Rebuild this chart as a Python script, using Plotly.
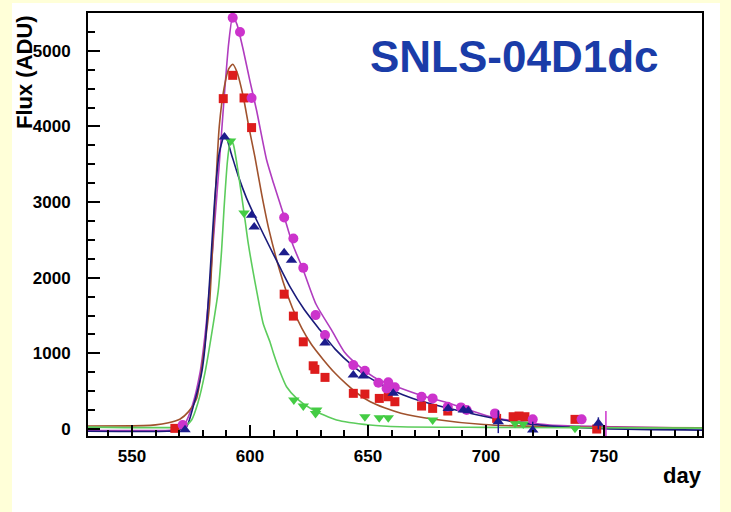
import plotly.graph_objects as go

# ---------------- data ----------------
# magenta circles
mag_day = [571.5, 592.7, 595.8, 600.7, 614.5, 618.4, 622.6, 627.8, 631.8, 643.8, 648.7,
           654.4, 657.9, 658.6, 661.4, 672.7, 677.4, 683.8, 689.4, 691.8, 703.8, 719.8, 740.5]
mag_flux = [53, 5437, 5248, 4377, 2797, 2519, 2131, 1506, 1242, 845, 770,
            612, 537, 617, 551, 427, 405, 295, 286, 251, 207, 128, 128]
# red squares
red_day = [568.2, 588.7, 592.7, 597.5, 600.7, 614.5, 618.4, 622.6, 626.8, 627.5, 631.8,
           643.8, 648.7, 654.8, 658.6, 661.4, 672.7, 677.4, 683.8, 704.5, 711.5, 714.0,
           716.5, 737.7, 746.9]
red_flux = [9, 4368, 4676, 4377, 3985, 1783, 1493, 1153, 836, 789, 683,
            472, 462, 405, 427, 361, 304, 273, 238, 141, 163, 172, 163, 128, 0]
# navy triangles (up)
blu_day = [572.5, 589.2, 600.7, 601.8, 614.5, 617.6, 631.8, 643.8, 648.0, 660.7,
           684.0, 690.4, 692.5, 705.2, 719.8, 747.6]
blu_flux = [-10, 3860, 2827, 2672, 2329, 2232, 1136, 713, 700, 472,
            273, 251, 242, 96, -13, 75]
blu_err = [0, 0, 0, 0, 0, 0, 0, 0, 0, 0, 0, 0, 0, 150, 110, 80]
# green triangles (down)
grn_day = [591.8, 597.5, 618.6, 622.6, 627.8, 628.3, 648.7, 654.8, 658.6, 677.4,
           712.3, 715.8, 737.7]
grn_flux = [3808, 2857, 383, 304, 207, 251, 163, 149, 149, 119, 75, 66, 9]
# lone magenta error bar near day 751
mag_bar_day = [750.8]
mag_bar_flux = [60]
mag_bar_err = [180]

# fitted light curves
mag_fit_day = [531, 560, 568, 572.5, 575.5, 578.8, 581, 583, 585, 587, 589, 591, 592.7,
               594.5, 597.2, 600, 602.8, 607.1, 610, 614.1, 618, 622.6, 628, 634.6, 640,
               646.6, 654, 662.2, 673, 684.7, 700, 706, 727, 755, 792]
mag_fit_flux = [-20, -20, -10, 75, 300, 735, 1250, 1900, 2700, 3500, 4350, 5100, 5456,
                5350, 5007, 4600, 4214, 3553, 3250, 2849, 2450, 2100, 1650, 1308, 1020,
                823, 660, 559, 440, 339, 180, 135, 53, 30, 9]
red_fit_day = [531, 555, 560, 565, 570.3, 574, 577.4, 580.2, 582.8, 584, 585.5, 587, 589,
               591, 592.7, 594.5, 597.2, 599.5, 602.1, 605, 608.1, 614, 618, 622, 626,
               631, 636, 641, 646, 651, 657, 664, 678, 699, 727, 792]
red_fit_flux = [40, 45, 55, 80, 130, 230, 400, 955, 1616, 2300, 3200, 4000, 4500,
                4760, 4822, 4720, 4390, 4000, 3597, 3100, 2629, 1950, 1600, 1330, 1120,
                920, 740, 590, 460, 360, 280, 210, 130, 60, 30, 18]
blu_fit_day = [531, 565, 570, 573.2, 576, 579.5, 581, 583, 585, 587, 589.4, 592, 595,
               598.6, 603, 608.5, 613, 617, 623, 629.7, 636, 643.8, 650, 656.4, 665,
               673.5, 690.4, 707.3, 720, 750, 792]
blu_fit_flux = [-30, -30, -15, 30, 300, 735, 1100, 2000, 3000, 3650, 3900, 3650, 3350,
                3050, 2750, 2400, 2120, 1880, 1580, 1308, 1060, 830, 690, 580, 450,
                361, 229, 119, 60, 5, -15]
grn_fit_day = [531, 570, 573, 575.3, 578, 580.9, 584.5, 586.6, 588, 589, 590.5, 591.8,
               593, 595, 597.5, 599.3, 603, 605.6, 608.5, 610, 612.7, 615.5, 620, 626.8,
               636.7, 650.8, 663.6, 700, 792]
grn_fit_flux = [25, 25, 50, 119, 350, 735, 1396, 1836, 2365, 2900, 3550, 3830,
                3760, 3400, 2860, 2450, 1800, 1396, 1150, 1000, 760, 559, 400, 251,
                119, 53, 30, 22, 12]

x_ticks = [550, 600, 650, 700, 750]
y_ticks = [0, 1000, 2000, 3000, 4000, 5000]

# ---------------- figure ----------------
FONT = "Liberation Sans, Arial, sans-serif"
MAG, MAG_L = "#cc33cc", "#b03cbf"
RED, RED_L = "#dd1c1c", "#a0522d"
BLU, BLU_L = "#1c1c8c", "#1a1a7a"
GRN, GRN_L = "#44cc44", "#5ccc5c"

fig = go.Figure()

for d, f, c in [(mag_fit_day, mag_fit_flux, MAG_L), (red_fit_day, red_fit_flux, RED_L),
                (blu_fit_day, blu_fit_flux, BLU_L), (grn_fit_day, grn_fit_flux, GRN_L)]:
    fig.add_trace(go.Scatter(x=d, y=f, mode="lines",
                             line=dict(color=c, width=1.6, shape="spline", smoothing=0.6),
                             hoverinfo="skip"))

fig.add_trace(go.Scatter(x=mag_bar_day, y=mag_bar_flux, mode="markers",
                         marker=dict(color=MAG, size=1, opacity=0),
                         error_y=dict(type="data", array=mag_bar_err, color=MAG,
                                      thickness=1.5, width=0)))
fig.add_trace(go.Scatter(x=grn_day, y=grn_flux, mode="markers",
                         marker=dict(symbol="triangle-down", color=GRN, size=10)))
fig.add_trace(go.Scatter(x=red_day, y=red_flux, mode="markers",
                         marker=dict(symbol="square", color=RED, size=9)))
fig.add_trace(go.Scatter(x=mag_day, y=mag_flux, mode="markers",
                         marker=dict(symbol="circle", color=MAG, size=10)))
fig.add_trace(go.Scatter(x=blu_day, y=blu_flux, mode="markers",
                         marker=dict(symbol="triangle-up", color=BLU, size=10),
                         error_y=dict(type="data", array=blu_err, color=BLU,
                                      thickness=1.5, width=0)))

W, H = 731, 512
L, R, T, B = 88, 29, 13, 76
pw, ph = W - L - R, H - T - B


def px(xp):
    return (xp - L) / pw


def py(yp):
    return (H - B - yp) / ph


fig.update_layout(
    width=W, height=H,
    margin=dict(l=L, r=R, t=T, b=B),
    paper_bgcolor="#ffffd8",
    plot_bgcolor="white",
    showlegend=False,
    font=dict(family=FONT, color="black"),
    shapes=[dict(type="rect", xref="paper", yref="paper",
                 x0=px(12), x1=px(720), y0=py(512), y1=py(3),
                 fillcolor="white", line=dict(width=0), layer="below")],
    annotations=[
        dict(text="SNLS-04D1dc", xref="paper", yref="paper", x=px(514), y=py(56),
             xanchor="center", yanchor="middle", showarrow=False,
             font=dict(family=FONT, size=44, color="#1a3ca8", weight="bold")),
        dict(text="Flux (ADU)", xref="paper", yref="paper", x=px(24), y=py(13),
             xanchor="center", yanchor="top", textangle=-90, showarrow=False,
             font=dict(family=FONT, size=22, color="black", weight="bold")),
        dict(text="day", xref="paper", yref="paper", x=px(704), y=py(476),
             xanchor="right", yanchor="middle", showarrow=False,
             font=dict(family=FONT, size=22, color="black", weight="bold")),
    ],
)

fig.update_xaxes(
    range=[531.4, 791.5], tickvals=x_ticks, ticks="inside", ticklen=11, tickwidth=1.5,
    tickcolor="black", showline=True, linecolor="black", linewidth=2, mirror=True,
    showgrid=False, zeroline=False,
    tickfont=dict(family=FONT, size=17, color="black", weight="bold"),
    ticklabelstandoff=4,
    minor=dict(dtick=10, tick0=550, ticks="inside", ticklen=6, tickwidth=1.5,
               tickcolor="black", showgrid=False),
)
fig.update_yaxes(
    range=[-92, 5500], tickvals=y_ticks, ticks="inside", ticklen=12, tickwidth=1.5,
    tickcolor="black", showline=True, linecolor="black", linewidth=2, mirror=True,
    showgrid=False, zeroline=False,
    tickfont=dict(family=FONT, size=17, color="black", weight="bold"),
    ticklabelstandoff=12,
    minor=dict(dtick=250, tick0=0, ticks="inside", ticklen=7, tickwidth=1.5,
               tickcolor="black", showgrid=False),
)

fig.write_html("out.html")
